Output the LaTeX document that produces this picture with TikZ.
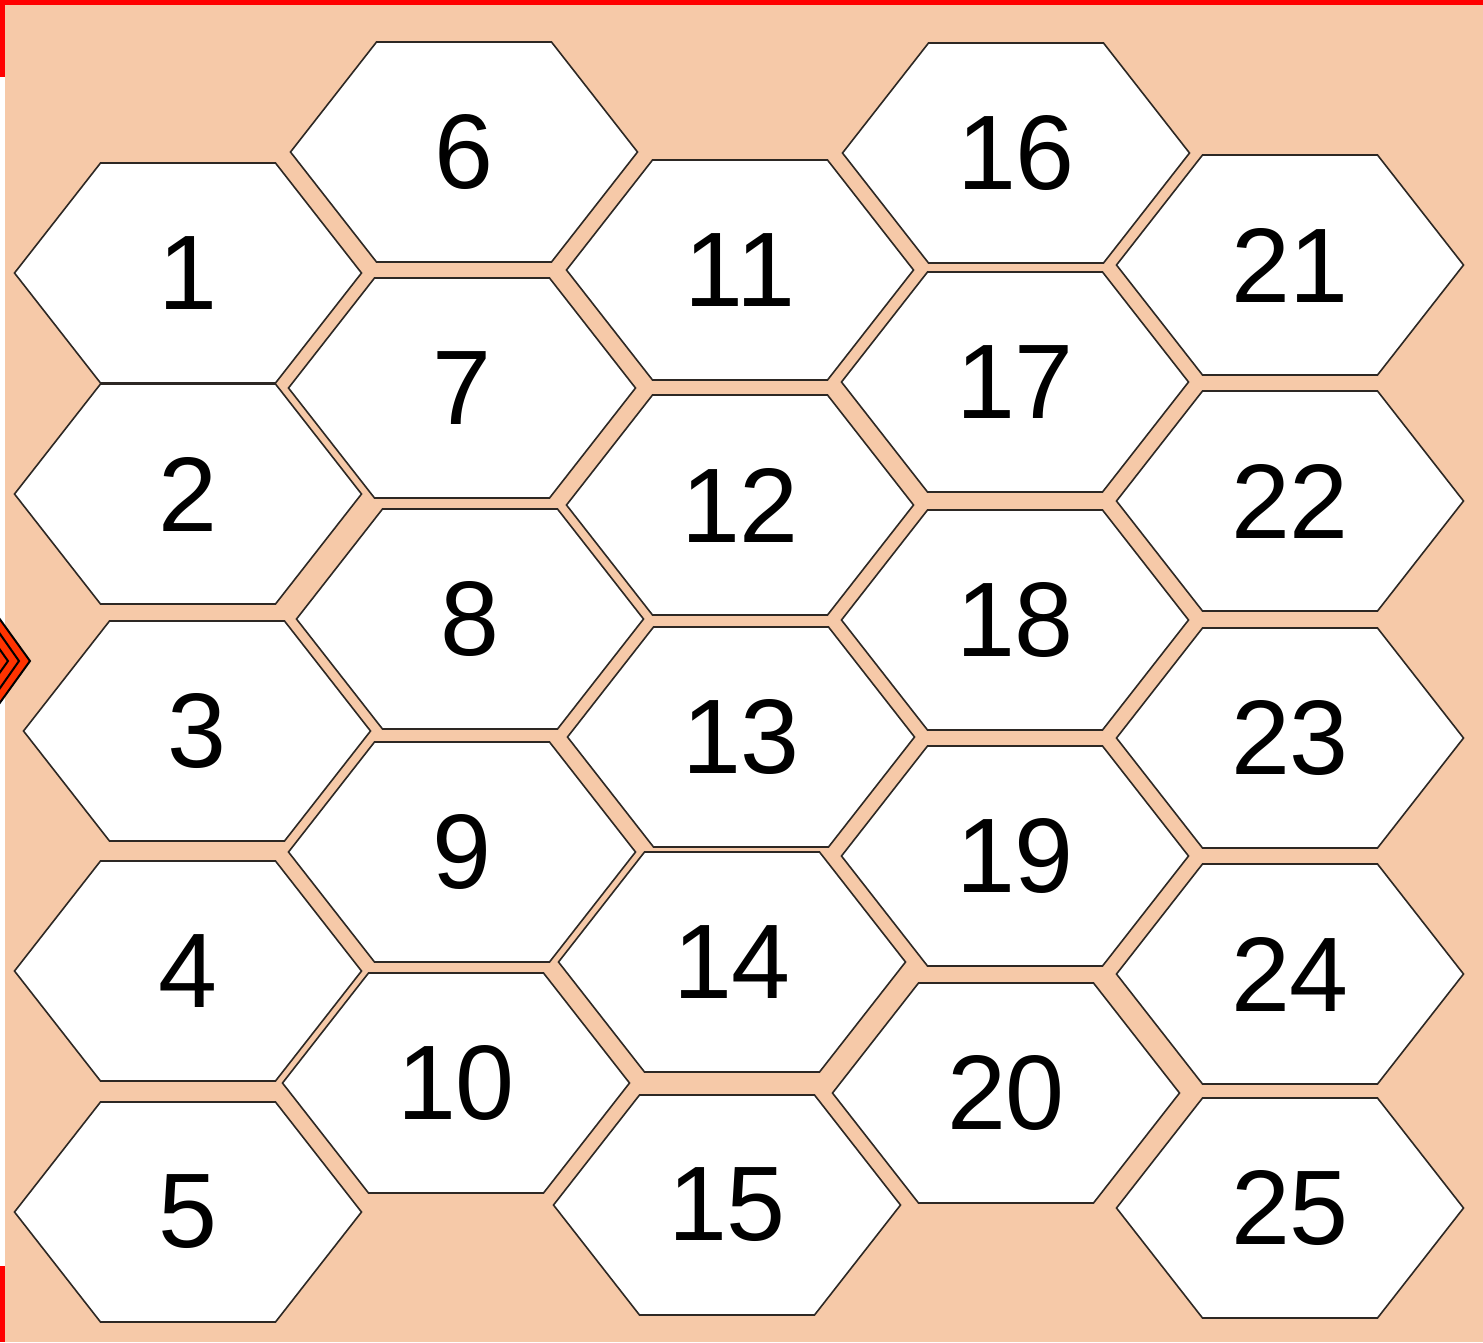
\documentclass[tikz,border=0pt]{standalone}
\usepackage{fontspec}
\setmainfont{Liberation Sans}
\usepackage{xcolor}
\usetikzlibrary{positioning}

\definecolor{peach}{RGB}{246,201,168}
\definecolor{hexline}{RGB}{45,40,36}
\definecolor{framered}{RGB}{255,0,0}
\definecolor{markred}{RGB}{255,51,0}

\begin{document}
\begin{tikzpicture}[x=1pt, y=-1pt,
  hexcell/.style={draw=hexline, fill=white, line width=1.6pt, line join=miter},
  num/.style={font=\fontsize{106}{110}\selectfont, inner sep=0pt, text=black},
  marker/.style={draw=black, line width=2pt}]
\useasboundingbox (0,0) rectangle (1483,1342);
% background and frame
\fill[peach] (5,5) rectangle (1483,1342);
\fill[framered] (0,0) rectangle (1483,5);
\fill[framered] (0,0) rectangle (5,77);
\fill[framered] (0,1266) rectangle (5,1342);
% marker on the left edge
\begin{scope}
\clip (0,560) rectangle (60,760);
\draw[marker, fill=markred] (-14,600) -- (30,661) -- (-14,722) -- (-58,661) -- cycle;
\draw[marker] (-14,614) -- (19,661) -- (-14,708);
\draw[marker] (-14,630) -- (8,661) -- (-14,692);
\end{scope}
% hex cells
\foreach \n/\x/\y in {1/188/273, 2/188/494, 3/197/731, 4/188/971, 5/188/1212,
  6/464/152, 7/462/388, 8/470/619, 9/462/852, 10/456/1083,
  11/740/270, 12/740/505, 13/741/737, 14/732/962, 15/727/1205,
  16/1016/153, 17/1015/382, 18/1015/620, 19/1015/856, 20/1006/1093,
  21/1290/265, 22/1290/501, 23/1290/738, 24/1290/974, 25/1290/1208} {
  \draw[hexcell] (\x,\y) ++(-173.5,0) -- ++(86,-110) -- ++(175,0) -- ++(86,110)
    -- ++(-86,110) -- ++(-175,0) -- cycle;
  \node[num] (h\n) at (\x,\y) {\n};
}
\end{tikzpicture}
\end{document}
